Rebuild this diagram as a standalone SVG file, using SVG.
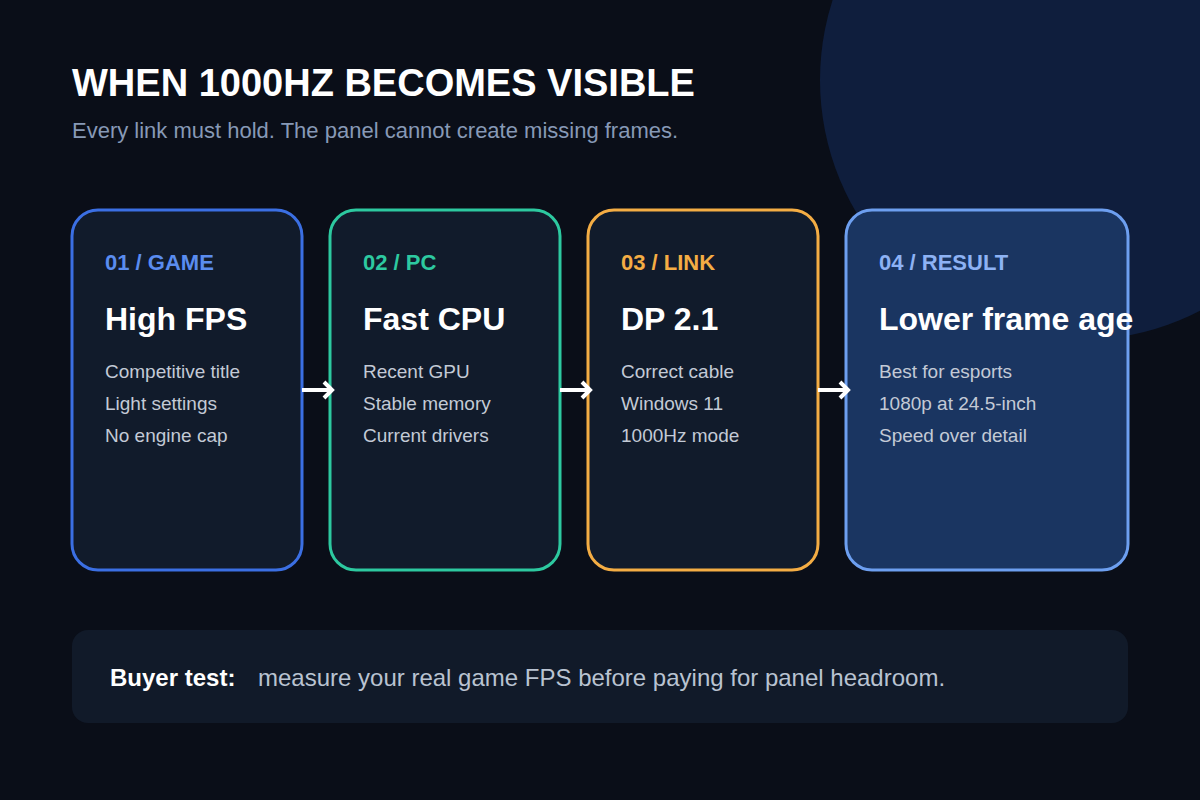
<svg xmlns="http://www.w3.org/2000/svg" width="1200" height="800" viewBox="0 0 1200 800">
<defs>
<style>
text{font-family:"Liberation Sans",Arial,sans-serif}
.card{stroke-width:3}
.lbl{font-size:22px;font-weight:bold}
.ttl{font-size:32px;font-weight:bold;fill:#ffffff}
.body{font-size:19px;fill:#c3cad6}
.conn{stroke:#ffffff;stroke-width:4;fill:none}
</style>
<marker id="ah" markerWidth="20" markerHeight="20" refX="10" refY="10" orient="auto" markerUnits="userSpaceOnUse">
<path d="M2,2 L10,10 L2,18" fill="none" stroke="#ffffff" stroke-width="4"/>
</marker>
</defs>
<rect width="1200" height="800" fill="#0a0e18"/>
<circle cx="1080" cy="80" r="260" fill="#0f1e3d"/>
<text x="72" y="96" font-size="38" font-weight="bold" fill="#ffffff">WHEN 1000HZ BECOMES VISIBLE</text>
<text x="72" y="138" font-size="22" fill="#8799b6">Every link must hold. The panel cannot create missing frames.</text>

<g id="node-game">
<rect class="card" x="72" y="210" width="230" height="360" rx="26" fill="#111b2b" stroke="#3b6fe3"/>
<text class="lbl" x="105" y="270" fill="#5a8cef">01 / GAME</text>
<text class="ttl" x="105" y="330">High FPS</text>
<text class="body" x="105" y="378">Competitive title</text>
<text class="body" x="105" y="410">Light settings</text>
<text class="body" x="105" y="442">No engine cap</text>
</g>
<g id="node-pc">
<rect class="card" x="330" y="210" width="230" height="360" rx="26" fill="#111b2b" stroke="#2dc9a0"/>
<text class="lbl" x="363" y="270" fill="#2dc9a0">02 / PC</text>
<text class="ttl" x="363" y="330">Fast CPU</text>
<text class="body" x="363" y="378">Recent GPU</text>
<text class="body" x="363" y="410">Stable memory</text>
<text class="body" x="363" y="442">Current drivers</text>
</g>
<g id="node-link">
<rect class="card" x="588" y="210" width="230" height="360" rx="26" fill="#111b2b" stroke="#f4ad44"/>
<text class="lbl" x="621" y="270" fill="#f4ad44">03 / LINK</text>
<text class="ttl" x="621" y="330">DP 2.1</text>
<text class="body" x="621" y="378">Correct cable</text>
<text class="body" x="621" y="410">Windows 11</text>
<text class="body" x="621" y="442">1000Hz mode</text>
</g>
<g id="node-result">
<rect class="card" x="846" y="210" width="282" height="360" rx="26" fill="#1a3561" stroke="#6d9ff0"/>
<text class="lbl" x="879" y="270" fill="#8db2f4">04 / RESULT</text>
<text class="ttl" x="879" y="330">Lower frame age</text>
<text class="body" x="879" y="378">Best for esports</text>
<text class="body" x="879" y="410">1080p at 24.5-inch</text>
<text class="body" x="879" y="442">Speed over detail</text>
</g>

<g id="connectors">
<line class="conn" x1="302" y1="390" x2="332" y2="390" marker-end="url(#ah)"/>
<line class="conn" x1="560" y1="390" x2="590" y2="390" marker-end="url(#ah)"/>
<line class="conn" x1="818" y1="390" x2="848" y2="390" marker-end="url(#ah)"/>
</g>

<g id="buyer-test">
<rect x="72" y="630" width="1056" height="93" rx="16" fill="#111a29"/>
<text x="110" y="686" font-size="24" font-weight="bold" fill="#ffffff">Buyer test:</text>
<text x="258" y="686" font-size="24" fill="#b9c3d1">measure your real game FPS before paying for panel headroom.</text>
</g>
</svg>
